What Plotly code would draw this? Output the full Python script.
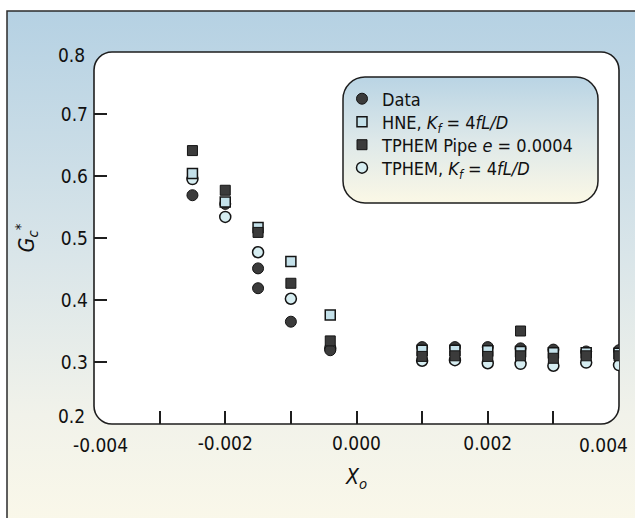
import base64
import plotly.graph_objects as go

# ---------------- data ----------------
x_data = [-0.0025, -0.002, -0.0015, -0.0015, -0.001, -0.0004,
          0.001, 0.0015, 0.002, 0.0025, 0.003, 0.0035, 0.004]
y_data = [0.569, 0.555, 0.451, 0.419, 0.365, 0.319,
          0.324, 0.324, 0.324, 0.322, 0.320, 0.317, 0.319]

x_model = [-0.0025, -0.002, -0.0015, -0.001, -0.0004,
           0.001, 0.0015, 0.002, 0.0025, 0.003, 0.0035, 0.004]
y_hne = [0.604, 0.558, 0.517, 0.462, 0.376,
         0.319, 0.319, 0.318, 0.317, 0.315, 0.315, 0.314]

x_pipe = [-0.0025, -0.002, -0.0015, -0.001, -0.0004,
          0.001, 0.0015, 0.002, 0.0025, 0.0025, 0.003, 0.0035, 0.004]
y_pipe = [0.641, 0.577, 0.509, 0.427, 0.334,
          0.309, 0.310, 0.309, 0.350, 0.310, 0.306, 0.310, 0.310]

y_tphem = [0.595, 0.534, 0.477, 0.402, 0.322,
           0.302, 0.303, 0.298, 0.297, 0.294, 0.299, 0.295]

x_major_ticks = [-0.002, 0.0, 0.002]
x_major_text = ["-0.002", "0.000", "0.002"]
x_minor_ticks = [-0.003, -0.001, 0.001, 0.003]
x_end_labels = {-0.004: "-0.004", 0.004: "0.004"}
y_tick_vals = [0.3, 0.4, 0.5, 0.6, 0.7]
y_tick_text = ["0.3", "0.4", "0.5", "0.6", "0.7"]
y_end_labels = {0.8: "0.8", 0.2: "0.2"}

names = {
    "data": "Data",
    "hne": "HNE, <i>K<sub>f</sub></i> = 4<i>fL/D</i>",
    "pipe": "TPHEM Pipe <i>e</i> = 0.0004",
    "tphem": "TPHEM, <i>K<sub>f</sub></i> = 4<i>fL/D</i>",
}

# ---------------- layout geometry ----------------
W, H = 635, 518
ML, MR, MT, MB = 94, 16, 52, 94
PW, PH = W - ML - MR, H - MT - MB
FONT = "DejaVu Sans Condensed, Liberation Sans Narrow, sans-serif"
LEG_X = 342
LEG_ROWS = [99, 122, 145, 168]   # pixel centres of legend rows

# decorative background (gradient frame, rounded plot panel, rounded legend box)
svg = f'''<svg xmlns="http://www.w3.org/2000/svg" width="{W}" height="{H}" viewBox="0 0 {W} {H}">
<defs>
<linearGradient id="bg" x1="0" y1="0" x2="0" y2="1">
<stop offset="0" stop-color="#b5d1e3"/>
<stop offset="0.45" stop-color="#d9e5e9"/>
<stop offset="0.75" stop-color="#f1f2ea"/>
<stop offset="1" stop-color="#fcf9e9"/>
</linearGradient>
<linearGradient id="lg" x1="0" y1="0" x2="0" y2="1">
<stop offset="0" stop-color="#b9d4e4"/>
<stop offset="0.5" stop-color="#dde8e9"/>
<stop offset="1" stop-color="#fbf8e6"/>
</linearGradient>
</defs>
<rect x="0" y="0" width="{W}" height="{H}" fill="#ffffff"/>
<rect x="7" y="11" width="{W + 20}" height="{H + 20}" fill="url(#bg)" stroke="#2b2b2b" stroke-width="1.5"/>
<rect x="{ML}" y="{MT}" width="{PW}" height="{PH}" rx="18" ry="18" fill="#ffffff" stroke="#1e1e1e" stroke-width="1.6"/>
<rect x="343" y="77" width="255" height="126" rx="22" ry="22" fill="url(#lg)" stroke="#1e1e1e" stroke-width="1.5"/>
</svg>'''
svg_uri = "data:image/svg+xml;base64," + base64.b64encode(svg.encode()).decode()

dark = "#3b3b3b"
edge = "#141414"

fig = go.Figure()
fig.add_trace(go.Scatter(
    x=x_model, y=y_tphem, mode="markers", name=names["tphem"], legend="legend4",
    marker=dict(symbol="circle", size=11, color="#d6edf1", line=dict(color=edge, width=1.5))))
fig.add_trace(go.Scatter(
    x=x_data, y=y_data, mode="markers", name=names["data"], legend="legend",
    marker=dict(symbol="circle", size=11, color=dark, line=dict(color=edge, width=1))))
fig.add_trace(go.Scatter(
    x=x_model, y=y_hne, mode="markers", name=names["hne"], legend="legend2",
    marker=dict(symbol="square", size=10, color="#c4e1ea", line=dict(color=edge, width=1.5))))
fig.add_trace(go.Scatter(
    x=x_pipe, y=y_pipe, mode="markers", name=names["pipe"], legend="legend3",
    marker=dict(symbol="square", size=10, color=dark, line=dict(color=edge, width=1))))

annotations = []
for xv, t in x_end_labels.items():
    annotations.append(dict(x=xv, y=0, xref="x", yref="paper", text=t, showarrow=False,
                            xanchor="center", yanchor="top", yshift=-8,
                            xshift=6 if xv < 0 else -16,
                            font=dict(family=FONT, size=19, color="#111")))
for yv, t in y_end_labels.items():
    annotations.append(dict(x=0, y=yv, xref="paper", yref="y", text=t, showarrow=False,
                            xanchor="right", yanchor="middle", xshift=-7,
                            yshift=-3 if yv > 0.5 else 8,
                            font=dict(family=FONT, size=19, color="#111")))


def legend_box(row_px):
    return dict(x=(LEG_X - ML) / PW, y=(H - MB - row_px) / PH,
                xanchor="left", yanchor="middle",
                bgcolor="rgba(0,0,0,0)", borderwidth=0,
                font=dict(family=FONT, size=18, color="#111"),
                itemclick=False, itemdoubleclick=False)


fig.update_layout(
    width=W, height=H,
    margin=dict(l=ML, r=MR, t=MT, b=MB, autoexpand=False),
    paper_bgcolor="white", plot_bgcolor="rgba(0,0,0,0)",
    font=dict(family=FONT, size=19, color="#111"),
    images=[dict(source=svg_uri, xref="paper", yref="paper",
                 x=-ML / PW, y=1 + MT / PH, sizex=W / PW, sizey=H / PH,
                 xanchor="left", yanchor="top", sizing="stretch", layer="below")],
    showlegend=True,
    legend=legend_box(LEG_ROWS[0]),
    legend2=legend_box(LEG_ROWS[1]),
    legend3=legend_box(LEG_ROWS[2]),
    legend4=legend_box(LEG_ROWS[3]),
    annotations=annotations,
    xaxis=dict(range=[-0.004, 0.004], showgrid=False, zeroline=False, showline=False,
               tickmode="array", tickvals=x_major_ticks, ticktext=x_major_text,
               ticks="inside", ticklen=13, tickwidth=1.5, tickcolor="#1e1e1e",
               minor=dict(tickvals=x_minor_ticks, ticks="inside", ticklen=13,
                          tickwidth=1.5, tickcolor="#1e1e1e", showgrid=False),
               ticklabelstandoff=6,
               title=dict(text="<i>X</i><sub><i>o</i></sub>", standoff=16,
                          font=dict(family=FONT, size=21))),
    yaxis=dict(range=[0.2, 0.8], showgrid=False, zeroline=False, showline=False,
               tickmode="array", tickvals=y_tick_vals, ticktext=y_tick_text,
               ticks="inside", ticklen=13, tickwidth=1.5, tickcolor="#1e1e1e",
               ticklabelstandoff=5,
               title=dict(text="<i>G</i><sub><i>c</i></sub><sup>*</sup>", standoff=20,
                          font=dict(family=FONT, size=21))),
)

fig.write_html("out.html", config={"displayModeBar": False},
               post_script="document.body.style.margin='0';")
